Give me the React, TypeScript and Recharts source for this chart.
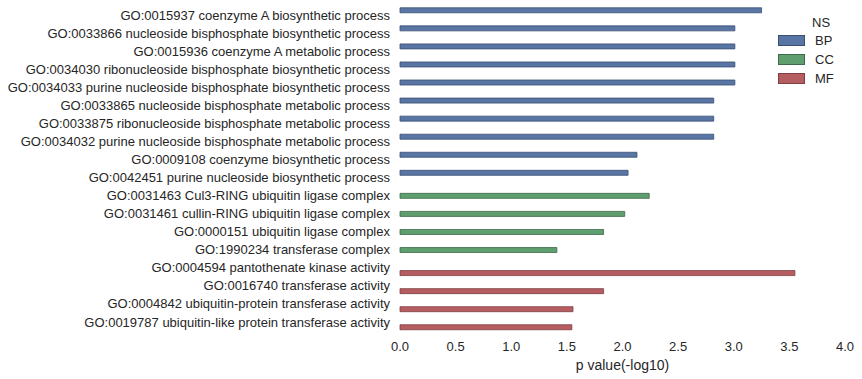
import React from 'react';
import { BarChart, Bar, XAxis, YAxis } from 'recharts';

const terms = [
  'GO:0015937 coenzyme A biosynthetic process',
  'GO:0033866 nucleoside bisphosphate biosynthetic process',
  'GO:0015936 coenzyme A metabolic process',
  'GO:0034030 ribonucleoside bisphosphate biosynthetic process',
  'GO:0034033 purine nucleoside bisphosphate biosynthetic process',
  'GO:0033865 nucleoside bisphosphate metabolic process',
  'GO:0033875 ribonucleoside bisphosphate metabolic process',
  'GO:0034032 purine nucleoside bisphosphate metabolic process',
  'GO:0009108 coenzyme biosynthetic process',
  'GO:0042451 purine nucleoside biosynthetic process',
  'GO:0031463 Cul3-RING ubiquitin ligase complex',
  'GO:0031461 cullin-RING ubiquitin ligase complex',
  'GO:0000151 ubiquitin ligase complex',
  'GO:1990234 transferase complex',
  'GO:0004594 pantothenate kinase activity',
  'GO:0016740 transferase activity',
  'GO:0004842 ubiquitin-protein transferase activity',
  'GO:0019787 ubiquitin-like protein transferase activity',
];

const pValues = [3.25, 3.01, 3.01, 3.01, 3.01, 2.82, 2.82, 2.82, 2.13, 2.05, 2.24, 2.02, 1.83, 1.41, 3.55, 1.83, 1.555, 1.545];

const namespaces = ['BP', 'BP', 'BP', 'BP', 'BP', 'BP', 'BP', 'BP', 'BP', 'BP', 'CC', 'CC', 'CC', 'CC', 'MF', 'MF', 'MF', 'MF'];

const nsNames = ['BP', 'CC', 'MF'];
const nsFill: Record<string, string> = { BP: '#5975A4', CC: '#5F9E6E', MF: '#B55D60' };
const nsStroke: Record<string, string> = { BP: '#3A4F73', CC: '#3E6B49', MF: '#7E3F42' };

const xTicks = [0, 0.5, 1, 1.5, 2, 2.5, 3, 3.5, 4];

const rows = terms.map((t, i) => {
  const r: any = { name: t };
  nsNames.forEach((n) => {
    r[n] = namespaces[i] === n ? pValues[i] : null;
  });
  return r;
});

const FONT = '"Liberation Sans", Arial, sans-serif';
const TXT = '#262626';

const YTick = (props: any) => {
  const { x, y, payload } = props;
  return (
    <text x={x} y={y} dy="0.35em" textAnchor="end" fill={TXT} fontSize={13} fontFamily={FONT}>
      {payload.value}
    </text>
  );
};

const LegendBox = () => (
  <div
    style={{
      position: 'absolute',
      left: 771,
      top: 0,
      fontFamily: FONT,
      color: TXT,
      fontSize: 13,
      width: 90,
    }}
  >
    <div style={{ textAlign: 'left', paddingLeft: 41, marginTop: 16, height: 14, lineHeight: '14px' }}>NS</div>
    <div style={{ marginTop: 1.6 }}>
      {nsNames.map((n) => (
        <div key={n} style={{ display: 'flex', alignItems: 'center', height: 18.7 }}>
          <div
            style={{
              width: 25,
              height: 9,
              background: nsFill[n],
              border: `1px solid ${nsStroke[n]}`,
              marginLeft: 7,
              marginRight: 10,
            }}
          />
          <span>{n}</span>
        </div>
      ))}
    </div>
  </div>
);

export default function App() {
  return (
    <div style={{ position: 'absolute', left: 0, top: 0, width: 862, height: 379, background: '#fff' }}>
      <BarChart
        width={862}
        height={379}
        data={rows}
        layout="vertical"
        margin={{ top: 6, right: 17, bottom: 4, left: 0 }}
        barCategoryGap="10%"
        barGap={0}
      >
        <XAxis
          type="number"
          domain={[0, 4]}
          ticks={xTicks}
          tickFormatter={(v: number) => v.toFixed(1)}
          axisLine={false}
          tickLine={false}
          tickMargin={5}
          height={44}
          tick={{ fill: TXT, fontSize: 13, fontFamily: FONT }}
          label={{
            value: 'p value(-log10)',
            position: 'insideBottom',
            offset: 5,
            style: { fill: TXT, fontSize: 14, fontFamily: FONT },
          }}
        />
        <YAxis
          type="category"
          dataKey="name"
          width={400}
          axisLine={false}
          tickLine={false}
          tickMargin={4}
          interval={0}
          tick={<YTick />}
        />
        {nsNames.map((n) => (
          <Bar
            key={n}
            dataKey={n}
            fill={nsFill[n]}
            stroke={nsStroke[n]}
            strokeWidth={0.8}
            isAnimationActive={false}
          />
        ))}
      </BarChart>
      <LegendBox />
    </div>
  );
}
